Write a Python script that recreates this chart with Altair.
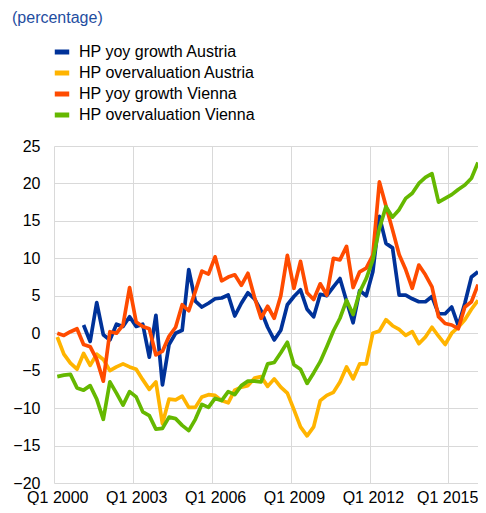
import altair as alt
import pandas as pd

# quarterly observations, Q1 2000 (index 0) ... Q1 2016 (index 64)
quarter_index = list(range(65))

series_names = [
    "HP yoy growth Austria",
    "HP overvaluation Austria",
    "HP yoy growth Vienna",
    "HP overvaluation Vienna",
]
series_colors = ["#003299", "#FFB400", "#FF4B00", "#65B800"]

hp_yoy_austria = [
    None, None, None, None, 1.1, -1.1, 4.1, -0.2, -0.9, 1.2,
    0.9, 2.2, 0.9, 1.2, -3.2, 2.4, -6.9, -1.5, 0.0, 0.4,
    8.5, 4.3, 3.5, 4.0, 4.6, 4.7, 5.1, 2.3, 4.0, 5.4,
    4.6, 3.0, 0.8, -0.9, 0.4, 3.8, 4.9, 5.8, 3.2, 2.2,
    5.2, 5.0, 6.2, 7.3, 4.3, 1.4, 5.7, 5.0, 8.2, 15.6,
    12.0, 11.4, 5.1, 5.1, 4.6, 4.2, 4.2, 4.9, 2.6, 2.6,
    3.5, 1.0, 4.0, 7.5, 8.2,
]
hp_overval_austria = [
    -0.5, -2.8, -4.0, -4.8, -2.7, -4.3, -2.8, -3.5, -5.0, -4.5,
    -4.1, -4.5, -4.8, -6.2, -7.5, -6.5, -12.1, -8.8, -8.9, -8.4,
    -9.9, -9.9, -8.5, -8.2, -8.3, -9.0, -9.3, -7.6, -7.2, -7.0,
    -6.0, -5.8, -7.1, -6.1, -7.2, -8.0, -10.2, -12.5, -13.7, -12.5,
    -9.0, -8.3, -7.9, -6.5, -4.5, -6.1, -4.1, -4.1, 0.0, 0.3,
    1.8, 1.0, 0.5, -0.3, 0.2, -1.4, -0.5, 0.8, -0.4, -1.5,
    0.0, 0.8, 1.8, 3.2, 4.4,
]
hp_yoy_vienna = [
    0.0, -0.3, 0.2, 0.6, -1.5, -1.8, -3.5, -6.4, 0.2, 0.0,
    1.1, 6.1, 1.5, 0.9, 0.6, -2.9, -2.4, -0.4, 0.8, 3.8,
    3.0, 5.6, 8.3, 7.9, 10.2, 7.0, 7.5, 7.8, 6.4, 8.0,
    4.8, 2.0, 3.6, 2.0, 5.0, 10.4, 6.0, 9.6, 5.4, 4.5,
    6.6, 5.1, 10.0, 9.8, 11.6, 6.1, 8.2, 8.7, 10.4, 20.2,
    17.0, 13.8, 10.5, 8.5, 6.0, 9.1, 7.8, 6.2, 2.2, 1.3,
    1.1, 0.6, 3.5, 4.2, 6.5,
]
hp_overval_vienna = [
    -5.8, -5.6, -5.5, -7.3, -7.6, -7.0, -8.8, -11.5, -6.5, -8.0,
    -9.6, -7.8, -8.5, -10.5, -11.0, -12.8, -12.7, -11.2, -11.4, -12.3,
    -13.0, -11.5, -9.5, -9.9, -8.7, -9.0, -7.8, -8.2, -7.0, -6.4,
    -6.4, -6.5, -4.1, -3.9, -2.6, -1.2, -4.2, -4.8, -6.7, -5.3,
    -3.8, -1.8, 0.3, 2.0, 4.4, 2.5, 5.5, 7.3, 9.8, 14.0,
    16.9, 15.5, 16.5, 18.0, 18.7, 20.0, 20.8, 21.3, 17.5, 18.0,
    18.5, 19.2, 19.8, 20.7, 22.8,
]

# axis: tick labels every 12 quarters, gridlines on category boundaries
x_grid_positions = [-0.5, 11.5, 23.5, 35.5, 47.5, 59.5]
y_ticks = [-20, -15, -10, -5, 0, 5, 10, 15, 20, 25]

rows = []
for name, vals in zip(series_names, [hp_yoy_austria, hp_overval_austria,
                                     hp_yoy_vienna, hp_overval_vienna]):
    for i, v in zip(quarter_index, vals):
        if v is not None:
            rows.append({"t": i, "value": v, "series": name})
df = pd.DataFrame(rows)

FONT = "Liberation Sans"

chart = alt.Chart(df).mark_line(
    strokeWidth=3.7, strokeJoin="round", strokeCap="butt"
).encode(
    x=alt.X(
        "t:Q",
        scale=alt.Scale(domain=[-0.5, 64], nice=False, zero=False),
        axis=alt.Axis(
            values=x_grid_positions,
            labelExpr="'Q1 ' + (2000 + (datum.value + 0.5) / 4)",
            labelAlign=alt.condition("datum.value > 50", alt.value("right"), alt.value("center")),
            labelOffset=alt.condition("datum.value > 50", alt.value(29.5), alt.value(3.3)),
            labelFlush=False,
            labelPadding=6,
            ticks=False,
            domain=False,
            grid=True,
            title=None,
        ),
    ),
    y=alt.Y(
        "value:Q",
        scale=alt.Scale(domain=[-20, 25], nice=False),
        axis=alt.Axis(
            values=y_ticks,
            ticks=False,
            domain=False,
            grid=True,
            labelPadding=14,
            title=None,
        ),
    ),
    color=alt.Color(
        "series:N",
        scale=alt.Scale(domain=series_names, range=series_colors),
        legend=alt.Legend(
            orient="none",
            legendX=-2,
            legendY=-104,
            title=None,
            direction="vertical",
            symbolType="stroke",
            symbolSize=209,
            symbolStrokeWidth=5,
            labelFontSize=16,
            labelFont=FONT,
            labelColor="#000000",
            labelLimit=400,
            labelOffset=7,
            rowPadding=1,
            padding=0,
        ),
    ),
).properties(
    width=424,
    height=337,
    title=alt.TitleParams(
        "(percentage)",
        anchor="start",
        frame="group",
        dx=-42,
        offset=16,
        fontSize=16,
        font=FONT,
        fontWeight="normal",
        color="#1F4E9F",
    ),
    autosize=alt.AutoSizeParams(type="none"),
    padding={"left": 46, "top": 138, "right": 0, "bottom": 22},
).configure_axis(
    labelFont=FONT,
    labelFontSize=16,
    labelColor="#000000",
    gridColor="#D9D9D9",
    gridWidth=1,
).configure_view(
    stroke=None
)

chart.save("out.html", embed_options={"renderer": "svg", "actions": False})
